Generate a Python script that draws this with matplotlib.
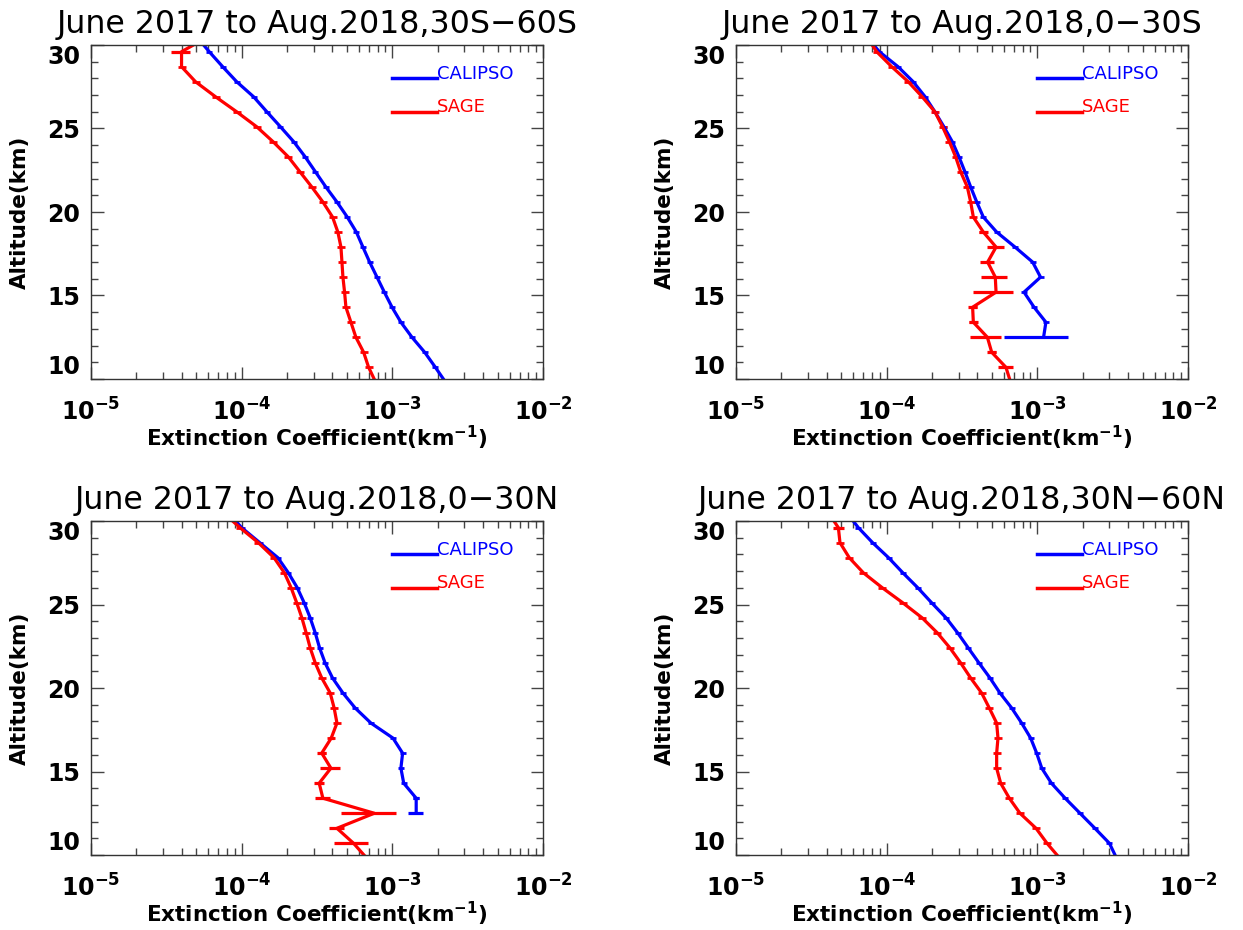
import numpy as np
import matplotlib
matplotlib.use("Agg")
import matplotlib.pyplot as plt
from matplotlib.ticker import MultipleLocator, LogLocator, FixedLocator, FixedFormatter, NullFormatter

plt.rcParams['font.family'] = ['DejaVu Sans']
plt.rcParams['mathtext.fontset'] = 'dejavusans'

nan = np.nan

# altitude levels (km) shared by all profiles
alt = [30.5, 29.6, 28.7, 27.8, 26.9, 26.0, 25.1, 24.2, 23.3, 22.4, 21.5, 20.6,
       19.7, 18.8, 17.9, 17.0, 16.1, 15.2, 14.3, 13.4, 12.5, 11.6, 10.7, 9.8]

# 30S-60S
calipso_s60 = [5.02e-5, 6.09e-5, 7.48e-5, 9.27e-5, 1.20e-4, 1.47e-4, 1.81e-4, 2.22e-4,
               2.64e-4, 3.09e-4, 3.62e-4, 4.29e-4, 5.02e-4, 5.77e-4, 6.38e-4, 7.07e-4,
               7.91e-4, 8.85e-4, 9.95e-4, 1.14e-3, 1.35e-3, 1.64e-3, 1.93e-3, 2.26e-3]
calipso_s60_err = [0] * 24
sage_s60 = [6.0e-5, 3.99e-5, 3.99e-5, 4.94e-5, 6.71e-5, 9.27e-5, 1.26e-4, 1.62e-4,
            2.04e-4, 2.44e-4, 2.92e-4, 3.46e-4, 4.01e-4, 4.35e-4, 4.56e-4, 4.63e-4,
            4.70e-4, 4.82e-4, 4.92e-4, 5.31e-4, 5.73e-4, 6.45e-4, 6.96e-4, 7.76e-4]
sage_s60_err = [0, 5.7e-6, 0, 0, 0, 0, 0, 0, 0, 0, 0, 0,
                0, 0, 0, 0, 0, 0, 0, 0, 0, 0, 0, 0]

# 0-30S
calipso_s30 = [7.37e-5, 8.94e-5, 1.19e-4, 1.50e-4, 1.80e-4, 2.09e-4, 2.40e-4, 2.73e-4,
               3.02e-4, 3.31e-4, 3.61e-4, 3.96e-4, 4.38e-4, 5.37e-4, 7.11e-4, 9.31e-4,
               1.05e-3, 8.16e-4, 9.51e-4, 1.14e-3, 1.10e-3, nan, nan, nan]
calipso_s30_err = [0, 0, 0, 0, 0, 0, 0, 0, 0, 0, 0, 0,
                   0, 0, 0, 0, 0, 0, 0, 0, 5.0e-4, 0, 0, 0]
sage_s30 = [7.37e-5, 8.58e-5, 1.08e-4, 1.39e-4, 1.72e-4, 2.09e-4, 2.35e-4, 2.61e-4,
            2.87e-4, 3.10e-4, 3.43e-4, 3.61e-4, 3.76e-4, 4.38e-4, 5.32e-4, 4.68e-4,
            5.26e-4, 5.32e-4, 3.72e-4, 3.76e-4, 4.66e-4, 4.98e-4, 6.19e-4, 6.65e-4]
sage_s30_err = [0, 0, 0, 0, 0, 0, 0, 0, 0, 0, 0, 0,
                0, 3.0e-5, 7.0e-5, 5.0e-5, 1.06e-4, 1.6e-4, 2.8e-5, 2.5e-5, 1.1e-4, 3.5e-5, 7.4e-5, 0]

# 0-30N
calipso_n30 = [8.15e-5, 1.0e-4, 1.32e-4, 1.74e-4, 2.04e-4, 2.34e-4, 2.60e-4, 2.85e-4,
               3.08e-4, 3.29e-4, 3.58e-4, 4.01e-4, 4.70e-4, 5.67e-4, 7.21e-4, 1.01e-3,
               1.17e-3, 1.14e-3, 1.19e-3, 1.44e-3, 1.44e-3, nan, nan, nan]
calipso_n30_err = [0, 0, 0, 0, 0, 0, 0, 0, 0, 0, 0, 0,
                   0, 0, 0, 0, 0, 0, 0, 7.0e-5, 1.7e-4, 0, 0, 0]
sage_n30 = [7.55e-5, 9.75e-5, 1.29e-4, 1.64e-4, 1.92e-4, 2.13e-4, 2.32e-4, 2.51e-4,
            2.68e-4, 2.85e-4, 3.08e-4, 3.40e-4, 3.87e-4, 4.11e-4, 4.29e-4, 3.93e-4,
            3.40e-4, 3.91e-4, 3.27e-4, 3.46e-4, 7.59e-4, 4.29e-4, 5.53e-4, 6.78e-4]
sage_n30_err = [0, 0, 0, 0, 0, 0, 0, 0, 0, 0, 0, 0,
                0, 0, 0, 1.5e-5, 2.5e-5, 6.0e-5, 2.5e-5, 3.8e-5, 3.0e-4, 5.0e-5, 1.4e-4, 0]

# 30N-60N
calipso_n60 = [5.43e-5, 6.49e-5, 8.07e-5, 1.03e-4, 1.28e-4, 1.61e-4, 1.99e-4, 2.48e-4,
               2.96e-4, 3.48e-4, 4.10e-4, 4.85e-4, 5.65e-4, 6.76e-4, 7.87e-4, 9.03e-4,
               9.90e-4, 1.07e-3, 1.24e-3, 1.53e-3, 1.92e-3, 2.41e-3, 3.01e-3, 3.36e-3]
calipso_n60_err = [0] * 24
sage_n60 = [4.10e-5, 4.78e-5, 4.90e-5, 5.65e-5, 7.00e-5, 9.36e-5, 1.28e-4, 1.72e-4,
            2.17e-4, 2.63e-4, 3.10e-4, 3.61e-4, 4.27e-4, 4.80e-4, 5.37e-4, 5.48e-4,
            5.37e-4, 5.37e-4, 5.71e-4, 6.52e-4, 7.67e-4, 9.80e-4, 1.16e-3, 1.41e-3]
sage_n60_err = [0, 4.0e-6, 0, 0, 0, 0, 0, 0, 0, 0, 0, 0,
                0, 0, 0, 0, 0, 0, 0, 0, 0, 0, 0, 0]

titles = ["June 2017 to Aug.2018,30S\u221260S", "June 2017 to Aug.2018,0\u221230S",
          "June 2017 to Aug.2018,0\u221230N", "June 2017 to Aug.2018,30N\u221260N"]
xtick_vals = [1e-5, 1e-4, 1e-3, 1e-2]
xtick_labels = [r'$\mathbf{10^{-5}}$', r'$\mathbf{10^{-4}}$', r'$\mathbf{10^{-3}}$', r'$\mathbf{10^{-2}}$']

W, H = 1243, 930
fig = plt.figure(figsize=(W / 100, H / 100), dpi=100)

# axes boxes in pixels: left, top, right, bottom
boxes = [(91, 45, 543, 379), (736, 45, 1188, 379),
         (91, 521, 543, 855), (736, 521, 1188, 855)]

panels = [(calipso_s60, calipso_s60_err, sage_s60, sage_s60_err),
          (calipso_s30, calipso_s30_err, sage_s30, sage_s30_err),
          (calipso_n30, calipso_n30_err, sage_n30, sage_n30_err),
          (calipso_n60, calipso_n60_err, sage_n60, sage_n60_err)]

lw = 2.3
for i, (box, (cal, cal_err, sag, sag_err)) in enumerate(zip(boxes, panels)):
    l, t, r, b = box
    ax = fig.add_axes([l / W, 1 - b / H, (r - l) / W, (b - t) / H])
    ax.set_xscale('log')
    ax.set_xlim(1e-5, 1e-2)
    ax.set_ylim(10, 30)

    for vals, errs, col, ms in [(cal, cal_err, 'blue', 4), (sag, sag_err, 'red', 6)]:
        ax.errorbar(vals, alt, xerr=errs, fmt='-', color=col, lw=lw,
                    elinewidth=lw, capsize=0)
        ax.plot(vals, alt, ls='none', marker='_', color=col, markersize=ms, mew=2.0)

    # legend drawn by hand, IDL style
    ax.plot([0.665, 0.765], [0.901, 0.901], color='blue', lw=2.5, transform=ax.transAxes)
    ax.plot([0.665, 0.765], [0.80, 0.80], color='red', lw=2.5, transform=ax.transAxes)
    ax.text(0.766, 0.899, 'CALIPSO', color='blue', fontsize=13, transform=ax.transAxes,
            ha='left', va='baseline')
    ax.text(0.766, 0.798, 'SAGE', color='red', fontsize=13, transform=ax.transAxes,
            ha='left', va='baseline')

    ax.xaxis.set_major_locator(FixedLocator(xtick_vals))
    ax.xaxis.set_major_formatter(FixedFormatter(xtick_labels))
    ax.xaxis.set_minor_locator(LogLocator(base=10, subs=np.arange(2, 10), numticks=20))
    ax.xaxis.set_minor_formatter(NullFormatter())
    ax.yaxis.set_major_locator(FixedLocator([10, 15, 20, 25, 30]))
    ax.yaxis.set_major_formatter(FixedFormatter(['10', '15', '20', '25', '30']))
    ax.yaxis.set_minor_locator(MultipleLocator(1))
    ax.tick_params(which='both', direction='in', top=True, right=True, width=1, color='#444444')
    ax.tick_params(which='major', length=9, labelsize=17)
    ax.tick_params(which='minor', length=5)
    ax.tick_params(axis='x', pad=14)
    ax.tick_params(axis='y', pad=8)
    ylabs = ax.get_yticklabels()
    for lab in ylabs:
        lab.set_fontweight('bold')
    # end labels kept inside the axis height
    ylabs[0].set_verticalalignment('bottom')
    ylabs[-1].set_verticalalignment('top')
    for sp in ax.spines.values():
        sp.set_color('#333333')
        sp.set_linewidth(1)

    ax.set_title(titles[i], fontsize=22.8, pad=9)
    ax.set_ylabel('Altitude(km)', fontsize=15.5, fontweight='bold', labelpad=12)
    ax.set_xlabel(r'Extinction Coefficient(km$^{\mathbf{-1}}$)', fontsize=15.5,
                  fontweight='bold', labelpad=-1)

fig.savefig('out.png', dpi=100)
